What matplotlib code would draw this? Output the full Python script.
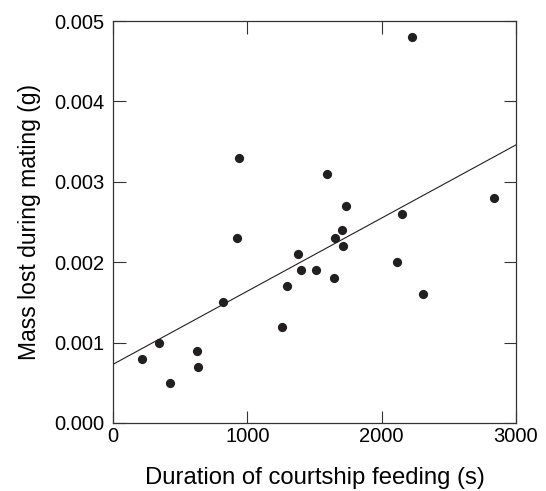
import numpy as np
import matplotlib
matplotlib.use("Agg")
import matplotlib.pyplot as plt

# data
duration = [216, 342, 427, 623, 635, 816, 920, 940, 1260, 1295, 1380, 1397,
            1511, 1590, 1643, 1650, 1705, 1712, 1737, 2114, 2149, 2228, 2308, 2839]
mass_lost = [0.0008, 0.0010, 0.0005, 0.0009, 0.0007, 0.0015, 0.0023, 0.0033,
             0.0012, 0.0017, 0.0021, 0.0019, 0.0019, 0.0031, 0.0018, 0.0023,
             0.0024, 0.0022, 0.0027, 0.0020, 0.0026, 0.0048, 0.0016, 0.0028]
fit_intercept = 0.00073
fit_slope = 9.1e-7

x_ticks = [0, 1000, 2000, 3000]
y_ticks = [0.000, 0.001, 0.002, 0.003, 0.004, 0.005]

plt.rcParams["font.family"] = ["Liberation Sans", "DejaVu Sans"]

fig = plt.figure(figsize=(5.46, 4.91), dpi=100)
ax = fig.add_axes([0.207, 0.1385, 0.738, 0.8185])

ax.scatter(duration, mass_lost, s=44, color="#231f20", zorder=3, linewidths=0)
xl = np.array([0, 3000])
ax.plot(xl, fit_intercept + fit_slope * xl, color="#231f20", lw=0.8)

ax.set_xlim(0, 3000)
ax.set_ylim(0, 0.005)
ax.set_xticks(x_ticks)
ax.set_yticks(y_ticks)
ax.set_yticklabels(["%.3f" % v for v in y_ticks])
ax.tick_params(direction="in", length=9, width=0.8, color="#333333",
               top=True, right=True, labelsize=14.5)
ax.tick_params(axis="y", pad=6)
ax.tick_params(axis="x", pad=3)
for s in ax.spines.values():
    s.set_color("#333333")
    s.set_linewidth(0.9)

ax.set_xlabel("Duration of courtship feeding (s)", fontsize=17.2, labelpad=15)
ax.set_ylabel("Mass lost during mating (g)", fontsize=16.5, labelpad=10)

fig.savefig("out.png", dpi=100)
